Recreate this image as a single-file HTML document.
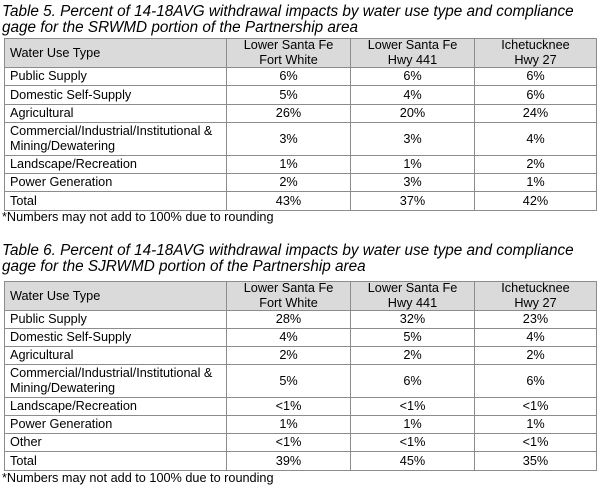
<!DOCTYPE html>
<html>
<head>
<meta charset="utf-8">
<style>
  html,body{margin:0;padding:0;background:#fff;}
  body{width:600px;height:488px;position:relative;overflow:hidden;font-family:"Liberation Sans",Arial,sans-serif;color:#000;}
  .title{position:absolute;left:2px;font-style:italic;font-size:15.3px;line-height:16px;white-space:nowrap;}
  .note{position:absolute;left:2px;font-size:12.7px;line-height:15px;white-space:nowrap;}
  .tbl{position:absolute;left:4px;width:593px;box-sizing:border-box;border:1px solid #8c8c8c;font-size:12.7px;}
  .row{display:flex;box-sizing:border-box;border-bottom:1px solid #8c8c8c;}
  .row.last{border-bottom:none;}
  .row.hdr{background:#dadada;}
  .c{box-sizing:border-box;display:flex;align-items:center;justify-content:center;text-align:center;line-height:15px;border-right:1px solid #8c8c8c;}
  .c1{width:222px;justify-content:flex-start;text-align:left;padding-left:5px;}
  .c2{width:124px;}
  .c3{width:124px;}
  .c4{width:121px;border-right:none;}
</style>
</head>
<body>

<div class="title" style="top:4px;">Table 5. Percent of 14-18AVG withdrawal impacts by water use type and compliance<br>gage for the SRWMD portion of the Partnership area</div>

<div class="tbl" style="top:38px;">
  <div class="row hdr" style="height:29px;"><div class="c c1">Water Use Type</div><div class="c c2">Lower Santa Fe<br>Fort White</div><div class="c c3">Lower Santa Fe<br>Hwy 441</div><div class="c c4">Ichetucknee<br>Hwy 27</div></div>
  <div class="row" style="height:18px;"><div class="c c1">Public Supply</div><div class="c c2">6%</div><div class="c c3">6%</div><div class="c c4">6%</div></div>
  <div class="row" style="height:19px;"><div class="c c1">Domestic Self-Supply</div><div class="c c2">5%</div><div class="c c3">4%</div><div class="c c4">6%</div></div>
  <div class="row" style="height:18px;"><div class="c c1">Agricultural</div><div class="c c2">26%</div><div class="c c3">20%</div><div class="c c4">24%</div></div>
  <div class="row" style="height:33px;"><div class="c c1">Commercial/Industrial/Institutional &amp;<br>Mining/Dewatering</div><div class="c c2">3%</div><div class="c c3">3%</div><div class="c c4">4%</div></div>
  <div class="row" style="height:18px;"><div class="c c1">Landscape/Recreation</div><div class="c c2">1%</div><div class="c c3">1%</div><div class="c c4">2%</div></div>
  <div class="row" style="height:18px;"><div class="c c1">Power Generation</div><div class="c c2">2%</div><div class="c c3">3%</div><div class="c c4">1%</div></div>
  <div class="row last" style="height:18px;"><div class="c c1">Total</div><div class="c c2">43%</div><div class="c c3">37%</div><div class="c c4">42%</div></div>
</div>

<div class="note" style="top:210px;">*Numbers may not add to 100% due to rounding</div>

<div class="title" style="top:243px;">Table 6. Percent of 14-18AVG withdrawal impacts by water use type and compliance<br>gage for the SJRWMD portion of the Partnership area</div>

<div class="tbl" style="top:281px;">
  <div class="row hdr" style="height:29px;"><div class="c c1">Water Use Type</div><div class="c c2">Lower Santa Fe<br>Fort White</div><div class="c c3">Lower Santa Fe<br>Hwy 441</div><div class="c c4">Ichetucknee<br>Hwy 27</div></div>
  <div class="row" style="height:18px;"><div class="c c1">Public Supply</div><div class="c c2">28%</div><div class="c c3">32%</div><div class="c c4">23%</div></div>
  <div class="row" style="height:18px;"><div class="c c1">Domestic Self-Supply</div><div class="c c2">4%</div><div class="c c3">5%</div><div class="c c4">4%</div></div>
  <div class="row" style="height:18px;"><div class="c c1">Agricultural</div><div class="c c2">2%</div><div class="c c3">2%</div><div class="c c4">2%</div></div>
  <div class="row" style="height:33px;"><div class="c c1">Commercial/Industrial/Institutional &amp;<br>Mining/Dewatering</div><div class="c c2">5%</div><div class="c c3">6%</div><div class="c c4">6%</div></div>
  <div class="row" style="height:18px;"><div class="c c1">Landscape/Recreation</div><div class="c c2">&lt;1%</div><div class="c c3">&lt;1%</div><div class="c c4">&lt;1%</div></div>
  <div class="row" style="height:18px;"><div class="c c1">Power Generation</div><div class="c c2">1%</div><div class="c c3">1%</div><div class="c c4">1%</div></div>
  <div class="row" style="height:18px;"><div class="c c1">Other</div><div class="c c2">&lt;1%</div><div class="c c3">&lt;1%</div><div class="c c4">&lt;1%</div></div>
  <div class="row last" style="height:18px;"><div class="c c1">Total</div><div class="c c2">39%</div><div class="c c3">45%</div><div class="c c4">35%</div></div>
</div>

<div class="note" style="top:471px;">*Numbers may not add to 100% due to rounding</div>

</body>
</html>
